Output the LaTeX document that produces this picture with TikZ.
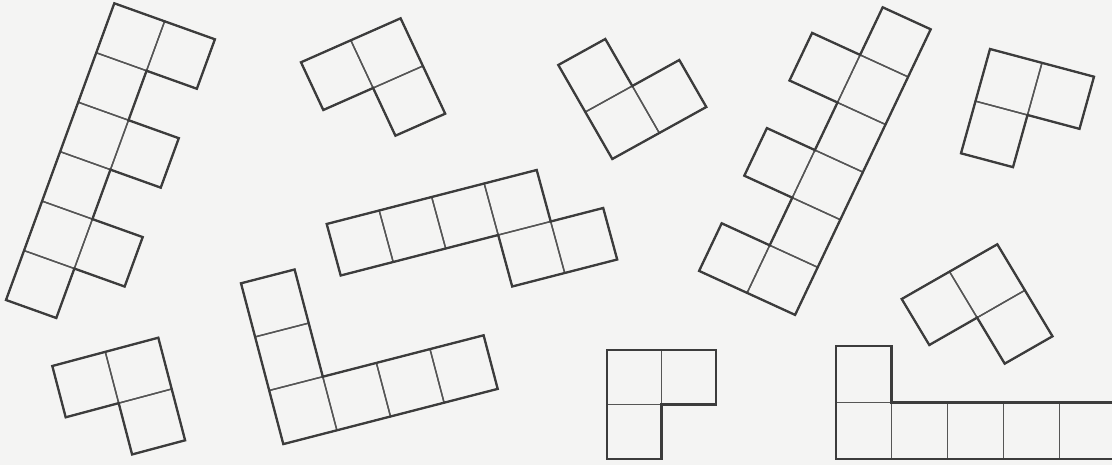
\documentclass[tikz,border=0pt]{standalone}
\usetikzlibrary{calc}
\definecolor{paper}{HTML}{F4F4F3}
\definecolor{ink}{HTML}{3C3C3C}
\definecolor{inkthin}{HTML}{555555}
\tikzset{
  innerline/.style={draw=inkthin, line width=1.4pt},
  outerline/.style={draw=ink, line width=2.3pt, line join=miter},
}
% #1 ox, #2 oy (pixels, y down), #3 ux, #4 uy, #5 vx, #6 vy, #7 cells, #8 outline path
\newcommand\polypiece[8]{%
  \begin{scope}[shift={({#1*1pt},{-(#2)*1pt})}, x={({#3*1pt},{-(#4)*1pt})}, y={({#5*1pt},{-(#6)*1pt})}]
    \foreach \ci/\cj in {#7} {\draw[innerline] (\ci,\cj) -- ++(1,0) -- ++(0,1) -- ++(-1,0) -- cycle;}
    \draw[outerline] #8 -- cycle;
  \end{scope}}
\begin{document}
\begin{tikzpicture}
  \fill[paper] (0,0) rectangle (1112pt,-465pt);
  \useasboundingbox (0,0) rectangle (1112pt,-465pt);
  \clip (0,0) rectangle (1112pt,-465pt);
  % 1 tall left piece
  \polypiece{114.3}{3.3}{50.3}{18}{-18.05}{49.45}{0/0,0/1,0/2,0/3,0/4,0/5,1/0,1/2,1/4}
    {(0,0) -- (2,0) -- (2,1) -- (1,1) -- (1,2) -- (2,2) -- (2,3) -- (1,3) -- (1,4) -- (2,4) -- (2,5) -- (1,5) -- (1,6) -- (0,6)}
  % 2 small L top
  \polypiece{301}{62.3}{49.8}{-22}{22.3}{47.7}{0/0,1/0,1/1}
    {(0,0) -- (2,0) -- (2,2) -- (1,2) -- (1,1) -- (0,1)}
  % 3 L top middle
  \polypiece{558.3}{65}{47}{-26}{27}{47}{0/0,0/1,1/1}
    {(0,0) -- (1,0) -- (1,1) -- (2,1) -- (2,2) -- (0,2)}
  % 4 long middle
  \polypiece{326.7}{224}{52.5}{-13.5}{14}{51.5}{0/0,1/0,2/0,3/0,3/1,4/1}
    {(0,0) -- (4,0) -- (4,1) -- (5,1) -- (5,2) -- (3,2) -- (3,1) -- (0,1)}
  % 5 right tall piece
  \polypiece{834.7}{-14.7}{48}{22}{-22.6}{47.6}{1/0,1/1,1/2,1/3,1/4,1/5,0/1,0/3,0/5}
    {(1,0) -- (2,0) -- (2,6) -- (0,6) -- (0,5) -- (1,5) -- (1,4) -- (0,4) -- (0,3) -- (1,3) -- (1,2) -- (0,2) -- (0,1) -- (1,1)}
  % 6 top right L
  \polypiece{990}{49}{52}{13.85}{-14.5}{52.15}{0/0,1/0,0/1}
    {(0,0) -- (2,0) -- (2,1) -- (1,1) -- (1,2) -- (0,2)}
  % 7 bottom left L
  \polypiece{52.3}{366}{53}{-14.15}{13.4}{51.3}{0/0,1/0,1/1}
    {(0,0) -- (2,0) -- (2,2) -- (1,2) -- (1,1) -- (0,1)}
  % 8 bottom L
  \polypiece{241}{283.3}{53.6}{-13.8}{14.1}{53.6}{0/0,0/1,0/2,1/2,2/2,3/2}
    {(0,0) -- (1,0) -- (1,2) -- (4,2) -- (4,3) -- (0,3)}
  % 9 bottom centre L
  \polypiece{606.7}{350}{54.7}{0}{0}{54.5}{0/0,1/0,0/1}
    {(0,0) -- (2,0) -- (2,1) -- (1,1) -- (1,2) -- (0,2)}
  % 10 bottom right long L
  \polypiece{835.7}{346}{55.9}{0}{0}{56.5}{0/0,0/1,1/1,2/1,3/1,4/1}
    {(0,0) -- (1,0) -- (1,1) -- (5,1) -- (5,2) -- (0,2)}
  % 11 bottom right tilted L
  \polypiece{901.7}{299}{47.8}{-27.35}{27.6}{46}{0/0,1/0,1/1}
    {(0,0) -- (2,0) -- (2,2) -- (1,2) -- (1,1) -- (0,1)}
\end{tikzpicture}
\end{document}
